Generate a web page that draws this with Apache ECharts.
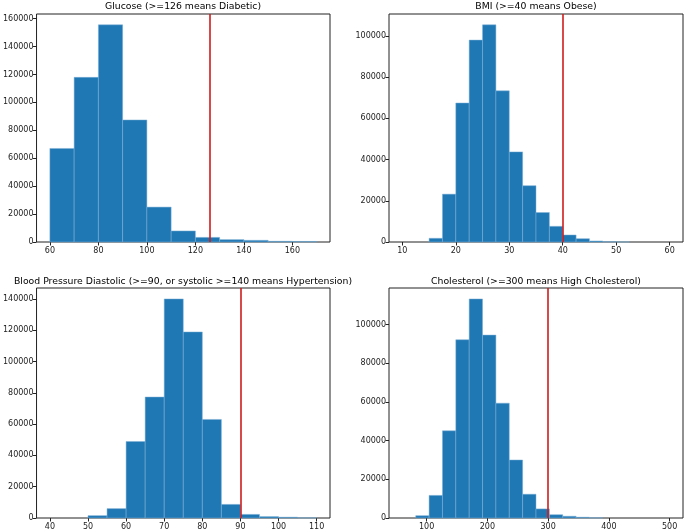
<!DOCTYPE html>
<html>
<head>
<meta charset="utf-8">
<script src="https://cdn.jsdelivr.net/npm/echarts@6/dist/echarts.min.js"></script>
<style>
html,body{margin:0;padding:0;background:#fff;}
#chart{width:685px;height:531px;}
</style>
</head>
<body>
<div id="chart"></div>
<script>
// ---- Data ----
const glucoseEdges = [60,70,80,90,100,110,120,130,140,150,160,170];
const glucoseCounts = [67000,117900,155500,87400,25000,7900,3300,1700,1200,500,400];
const glucoseThreshold = 126;
const glucoseXTicks = [60,80,100,120,140,160];
const glucoseYTicks = [0,20000,40000,60000,80000,100000,120000,140000,160000];

const bmiEdges = [10,12.5,15,17.5,20,22.5,25,27.5,30,32.5,35,37.5,40,42.5,45,47.5,50,52.5,55,57.5,60];
const bmiCounts = [0,0,1800,23200,67400,97900,105300,73300,43700,27300,14300,7600,3400,1600,500,150,40,0,0,0];
const bmiThreshold = 40;
const bmiXTicks = [10,20,30,40,50,60];
const bmiYTicks = [0,20000,40000,60000,80000,100000];

const bpEdges = [40,45,50,55,60,65,70,75,80,85,90,95,100,105,110];
const bpCounts = [0,0,1500,6000,48900,77300,140000,118900,63000,8700,2300,900,500,100];
const bpThreshold = 90;
const bpXTicks = [40,50,60,70,80,90,100,110];
const bpYTicks = [0,20000,40000,60000,80000,100000,120000,140000];

const cholEdges = [60,82,104,126,148,170,192,214,236,258,280,302,324,346,368,390,412,434,456,478,500];
const cholCounts = [0,1200,11700,45100,92200,113300,94600,59400,30000,12300,4700,1700,900,400,100,0,0,0,0,0];
const cholThreshold = 300;
const cholXTicks = [100,200,300,400,500];
const cholYTicks = [0,20000,40000,60000,80000,100000];

const titles = [
  'Glucose (>=126 means Diabetic)',
  'BMI (>=40 means Obese)',
  'Blood Pressure Diastolic (>=90, or systolic >=140 means Hypertension)',
  'Cholesterol (>=300 means High Cholesterol)'
];

// ---- Build chart ----
const panels = [
  {edges: glucoseEdges, counts: glucoseCounts, thr: glucoseThreshold, xt: glucoseXTicks, yt: glucoseYTicks},
  {edges: bmiEdges, counts: bmiCounts, thr: bmiThreshold, xt: bmiXTicks, yt: bmiYTicks},
  {edges: bpEdges, counts: bpCounts, thr: bpThreshold, xt: bpXTicks, yt: bpYTicks},
  {edges: cholEdges, counts: cholCounts, thr: cholThreshold, xt: cholXTicks, yt: cholYTicks}
];

const gridPos = [
  {left: 36, top: 14, width: 294, height: 228},
  {left: 389, top: 14, width: 294, height: 228},
  {left: 36, top: 288, width: 294, height: 230},
  {left: 389, top: 288, width: 294, height: 230}
];

const FONT = 'DejaVu Sans';
const plain = v => String(Math.round(v));
const grids = [], xAxes = [], yAxes = [], series = [], titleArr = [];

panels.forEach((p, i) => {
  const g = gridPos[i];
  grids.push({left: g.left, top: g.top, width: g.width, height: g.height,
    show: true, borderColor: '#222', borderWidth: 1, backgroundColor: '#fff', containLabel: false});
  const lo = p.edges[0], hi = p.edges[p.edges.length - 1];
  const pad = (hi - lo) * 0.05;
  const ymax = Math.max.apply(null, p.counts) * 1.05;
  xAxes.push({
    type: 'value', gridIndex: i, min: lo - pad, max: hi + pad,
    axisLine: {show: false},
    splitLine: {show: false},
    axisTick: {show: true, inside: false, length: 3.5, lineStyle: {color: '#222', width: 1}, customValues: p.xt},
    axisLabel: {show: true, color: '#222', fontFamily: FONT, fontSize: 8, margin: 5, customValues: p.xt, formatter: plain}
  });
  yAxes.push({
    type: 'value', gridIndex: i, min: 0, max: ymax,
    axisLine: {show: false},
    splitLine: {show: false},
    axisTick: {show: true, inside: false, length: 3.5, lineStyle: {color: '#222', width: 1}, customValues: p.yt},
    axisLabel: {show: true, color: '#222', fontFamily: FONT, fontSize: 8, margin: 3, customValues: p.yt, formatter: plain}
  });
  const data = p.counts.map((c, k) => [p.edges[k], p.edges[k + 1], c]);
  series.push({
    type: 'custom', xAxisIndex: i, yAxisIndex: i,
    encode: {x: [0, 1], y: 2},
    data: data,
    renderItem: function (params, api) {
      const c = api.value(2);
      if (!c) return null;
      const a = api.coord([api.value(0), 0]);
      const b = api.coord([api.value(1), c]);
      return {
        type: 'rect',
        shape: {x: a[0], y: b[1], width: b[0] - a[0], height: a[1] - b[1]},
        style: {fill: '#1f77b4', stroke: '#7fb0d6', lineWidth: 0.5}
      };
    },
    markLine: {
      silent: true, symbol: 'none', animation: false,
      label: {show: false},
      lineStyle: {color: '#d01c1c', type: 'solid', width: 1.6},
      data: [{xAxis: p.thr}]
    },
    z: 2
  });
  titleArr.push({
    text: titles[i],
    left: g.left + g.width / 2 - 5, textAlign: 'center',
    top: i < 2 ? -3 : 272,
    textStyle: {fontFamily: FONT, fontSize: 9.3, fontWeight: 'normal', color: '#000'}
  });
});

const chart = echarts.init(document.getElementById('chart'), null, {renderer: 'canvas'});
chart.setOption({
  animation: false,
  backgroundColor: '#fff',
  title: titleArr,
  grid: grids,
  xAxis: xAxes,
  yAxis: yAxes,
  series: series
});
</script>
</body>
</html>
